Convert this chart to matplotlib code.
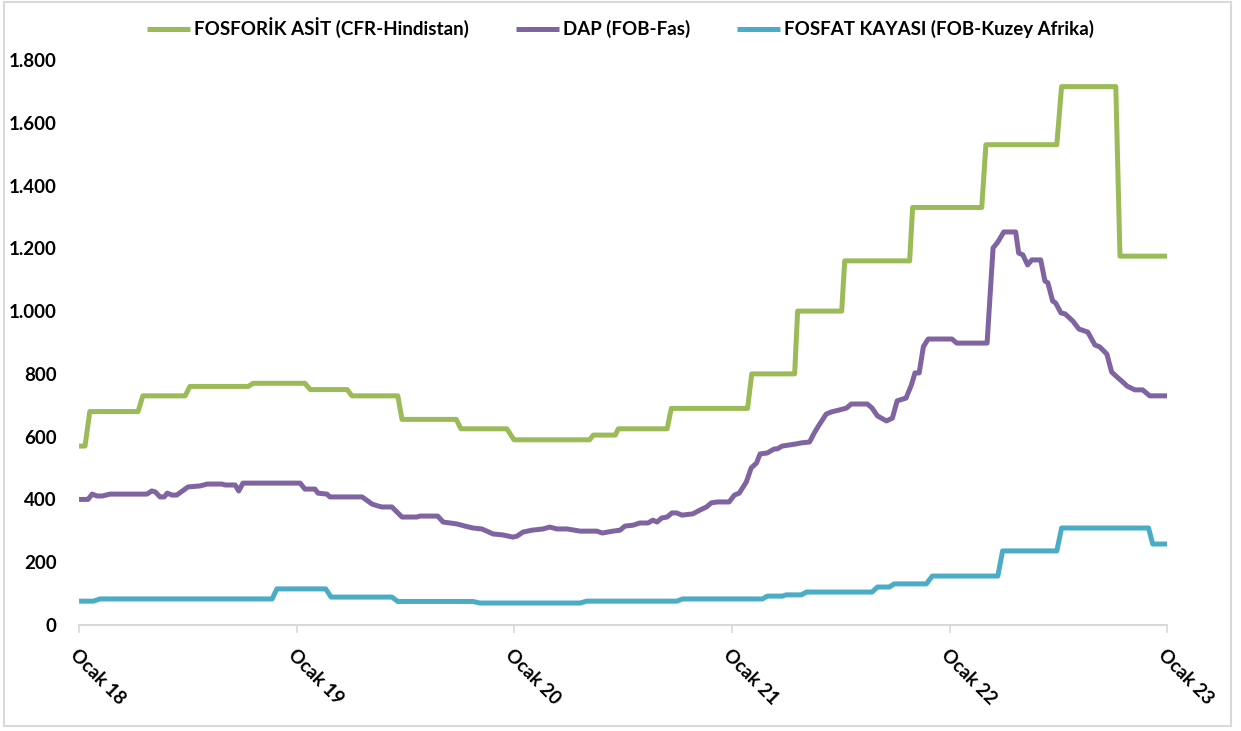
import numpy as np
import pandas as pd
import matplotlib
matplotlib.use("Agg")
import matplotlib.pyplot as plt
from matplotlib.ticker import FuncFormatter
from matplotlib.patches import Rectangle

# FOSFORIK ASIT (CFR-Hindistan) - $/ton, step-like monthly quotes
asit_tarih = ["2018-01-01", "2018-01-11", "2018-01-19", "2018-04-10", "2018-04-18", "2018-06-28",
              "2018-07-06", "2018-10-12", "2018-10-20", "2019-01-15", "2019-01-24", "2019-03-27",
              "2019-04-04", "2019-06-20", "2019-06-27", "2019-09-26", "2019-10-04", "2019-12-20",
              "2020-01-01", "2020-05-07", "2020-05-13", "2020-06-19", "2020-06-24", "2020-09-14",
              "2020-09-21", "2021-01-27", "2021-02-03", "2021-04-16", "2021-04-21", "2021-07-04",
              "2021-07-09", "2021-10-26", "2021-10-31", "2022-02-24", "2022-03-03", "2022-06-30",
              "2022-07-08", "2022-10-07", "2022-10-14", "2023-01-01"]
asit_deger = [570, 570, 680, 680, 730, 730,
              760, 760, 770, 770, 750, 750,
              730, 730, 655, 655, 625, 625,
              590, 590, 605, 605, 625, 625,
              690, 690, 800, 800, 1000, 1000,
              1160, 1160, 1330, 1330, 1530, 1530,
              1715, 1715, 1175, 1175]

# DAP (FOB-Fas)
dap_tarih = ["2018-01-01", "2018-01-16", "2018-01-23", "2018-01-31", "2018-02-09", "2018-02-22",
             "2018-04-25", "2018-05-03", "2018-05-09", "2018-05-17", "2018-05-24", "2018-05-29",
             "2018-06-06", "2018-06-14", "2018-07-03", "2018-07-23", "2018-08-04", "2018-08-29",
             "2018-09-03", "2018-09-20", "2018-09-26", "2018-10-03", "2019-01-07", "2019-01-15",
             "2019-02-01", "2019-02-06", "2019-02-21", "2019-02-26", "2019-04-21", "2019-05-08",
             "2019-05-18", "2019-05-24", "2019-06-10", "2019-06-27", "2019-07-22", "2019-07-27",
             "2019-08-26", "2019-09-04", "2019-09-27", "2019-10-11", "2019-10-24", "2019-11-08",
             "2019-11-27", "2019-12-13", "2019-12-30", "2020-01-06", "2020-01-16", "2020-01-31",
             "2020-02-19", "2020-03-01", "2020-03-13", "2020-03-30", "2020-04-21", "2020-05-19",
             "2020-05-28", "2020-06-15", "2020-06-27", "2020-07-05", "2020-07-19", "2020-07-30",
             "2020-08-13", "2020-08-21", "2020-08-28", "2020-09-05", "2020-09-14", "2020-09-22",
             "2020-09-30", "2020-10-09", "2020-10-27", "2020-11-08", "2020-11-19", "2020-11-27",
             "2020-12-07", "2020-12-27", "2021-01-05", "2021-01-13", "2021-01-25", "2021-02-02",
             "2021-02-11", "2021-02-17", "2021-03-01", "2021-03-13", "2021-03-18", "2021-03-26",
             "2021-04-19", "2021-04-27", "2021-05-11", "2021-05-19", "2021-05-27", "2021-06-08",
             "2021-06-17", "2021-06-30", "2021-07-12", "2021-07-20", "2021-08-16", "2021-08-24",
             "2021-09-02", "2021-09-17", "2021-09-27", "2021-10-05", "2021-10-20", "2021-10-29",
             "2021-11-04", "2021-11-11", "2021-11-18", "2021-11-26", "2022-01-05", "2022-01-13",
             "2022-03-05", "2022-03-15", "2022-03-23", "2022-04-02", "2022-04-22", "2022-04-27",
             "2022-05-04", "2022-05-12", "2022-05-19", "2022-06-03", "2022-06-10", "2022-06-15",
             "2022-06-23", "2022-06-28", "2022-07-07", "2022-07-14", "2022-07-27", "2022-08-06",
             "2022-08-21", "2022-09-02", "2022-09-10", "2022-09-22", "2022-09-30", "2022-10-09",
             "2022-10-17", "2022-10-26", "2022-11-08", "2022-11-21", "2022-12-03", "2023-01-01"]
dap_deger = [400, 400, 417, 411, 411, 417,
             417, 427, 424, 408, 408, 420,
             414, 414, 440, 443, 449, 449,
             446, 446, 427, 452, 452, 433,
             433, 420, 417, 408, 408, 385,
             379, 376, 376, 344, 344, 347,
             347, 328, 322, 315, 309, 306,
             290, 287, 280, 283, 296, 302,
             306, 312, 306, 306, 299, 299,
             293, 299, 302, 315, 318, 325,
             325, 334, 328, 341, 344, 357,
             357, 350, 354, 366, 376, 389,
             392, 392, 414, 420, 456, 500,
             516, 545, 548, 561, 561, 570,
             577, 580, 583, 612, 637, 672,
             679, 685, 691, 704, 704, 691,
             666, 650, 659, 714, 723, 765,
             803, 803, 886, 911, 911, 898,
             898, 1201, 1220, 1252, 1252, 1185,
             1179, 1147, 1163, 1163, 1096, 1090,
             1032, 1026, 994, 991, 968, 943,
             933, 892, 886, 863, 806, 790,
             777, 761, 749, 749, 730, 730]

# FOSFAT KAYASI (FOB-Kuzey Afrika)
kaya_tarih = ["2018-01-01", "2018-01-25", "2018-02-05", "2018-11-21", "2018-11-29", "2019-02-19",
              "2019-02-28", "2019-06-10", "2019-06-20", "2019-10-24", "2019-11-05", "2020-04-21",
              "2020-05-02", "2020-09-30", "2020-10-10", "2021-02-21", "2021-03-01", "2021-03-26",
              "2021-04-02", "2021-04-27", "2021-05-06", "2021-08-24", "2021-09-02", "2021-09-22",
              "2021-09-30", "2021-11-23", "2021-12-03", "2022-03-23", "2022-03-31", "2022-06-30",
              "2022-07-08", "2022-12-01", "2022-12-08", "2023-01-01"]
kaya_deger = [76, 76, 83, 83, 115, 115,
              89, 89, 75, 75, 70, 70,
              76, 76, 83, 83, 92, 92,
              96, 96, 105, 105, 121, 121,
              131, 131, 156, 156, 236, 236,
              309, 309, 258, 258]

seriler = ["FOSFORİK ASİT (CFR-Hindistan)", "DAP (FOB-Fas)", "FOSFAT KAYASI (FOB-Kuzey Afrika)"]
renkler = ["#9BBB59", "#8064A2", "#4BACC6"]
yil_etiketleri = ["Ocak 18", "Ocak 19", "Ocak 20", "Ocak 21", "Ocak 22", "Ocak 23"]
yillar = ["2018-01-01", "2019-01-01", "2020-01-01", "2021-01-01", "2022-01-01", "2023-01-01"]

plt.rcParams["font.family"] = ["Lato", "DejaVu Sans"]
plt.rcParams["font.weight"] = "bold"

fig = plt.figure(figsize=(12.41, 7.31), dpi=100)
ax = fig.add_axes([0.0637, 0.145, 0.8767, 0.773])

veriler = [(asit_tarih, asit_deger), (dap_tarih, dap_deger), (kaya_tarih, kaya_deger)]
for (t, v), ad, renk in zip(veriler, seriler, renkler):
    ax.plot(pd.to_datetime(t), v, color=renk, lw=3.6, label=ad,
            solid_joinstyle="round", solid_capstyle="butt")

ax.set_xlim(pd.Timestamp(yillar[0]), pd.Timestamp(yillar[-1]))
ax.set_ylim(0, 1800)
ax.set_yticks(np.arange(0, 1801, 200))
ax.yaxis.set_major_formatter(FuncFormatter(lambda v, p: f"{int(v):,}".replace(",", ".")))
ax.set_xticks(pd.to_datetime(yillar))
ax.set_xticklabels(yil_etiketleri, rotation=-45, ha="left", va="top",
                   rotation_mode="anchor", fontsize=13.5, fontweight="bold")

for s in ["top", "right", "left"]:
    ax.spines[s].set_visible(False)
ax.spines["bottom"].set_color("#d9d9d9")
ax.spines["bottom"].set_linewidth(1.5)
ax.tick_params(axis="y", length=0, pad=16, labelsize=13.5)
ax.tick_params(axis="x", length=6, width=1.2, color="#d9d9d9", pad=9)

fig.legend(loc="center", bbox_to_anchor=(0.5, 0.962), ncol=3, frameon=False,
           handlelength=2.3, handletextpad=0.2, columnspacing=2.5,
           prop={"weight": "bold", "size": 13.5})

# cerceve
fig.patches.append(Rectangle((0.0035, 0.007), 0.9885, 0.99, transform=fig.transFigure,
                             fill=False, edgecolor="#d9d9d9", lw=1.5))

fig.savefig("out.png", dpi=100)
